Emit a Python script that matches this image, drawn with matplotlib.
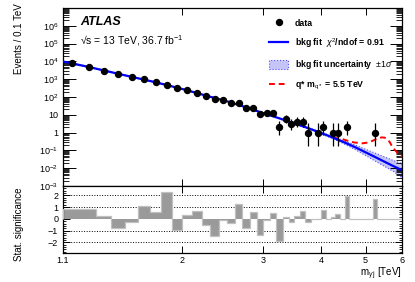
import matplotlib
matplotlib.use('Agg')
import matplotlib.pyplot as plt
import numpy as np
from matplotlib.ticker import FixedLocator, NullFormatter, LogLocator, FixedFormatter, MultipleLocator
from matplotlib.lines import Line2D
from matplotlib.patches import Patch

plt.rcParams['font.family'] = ['Liberation Sans', 'DejaVu Sans']
plt.rcParams['mathtext.fontset'] = 'custom'
plt.rcParams['mathtext.rm'] = 'Liberation Sans'
plt.rcParams['mathtext.it'] = 'Liberation Sans:italic'
plt.rcParams['mathtext.bf'] = 'Liberation Sans:bold'

# data: bin centres [TeV] and events per 0.1 TeV bin
data_m = [1.15, 1.25, 1.35, 1.45, 1.55, 1.65, 1.75, 1.85, 1.95, 2.05,
          2.15, 2.25, 2.35, 2.45, 2.55, 2.65, 2.75, 2.85, 2.95, 3.05,
          3.15, 3.25, 3.35, 3.45, 3.55, 3.65, 3.75, 3.95, 4.05, 4.25,
          4.35, 4.55, 5.25]
data_n = [7820, 4840, 3000, 2010, 1365, 987, 670, 497, 308, 241,
          179, 118, 80, 68, 48, 48, 24, 25, 11, 12,
          12, 2, 6, 3, 4, 4, 1, 1, 2, 1,
          1, 2, 1]

# background fit and its +-1 sigma band
fit_m = [1.1, 1.25, 1.5, 1.75, 2.0, 2.25, 2.5, 2.75, 3.0, 3.25, 3.5,
         3.75, 4.0, 4.25, 4.5, 4.75, 5.0, 5.25, 5.5, 5.75, 6.0]
fit_y = [9900, 4900, 1650, 670, 280, 120, 57, 26.5, 12.3, 6.3, 3.3,
         1.78, 0.96, 0.52, 0.28, 0.15, 0.078, 0.042, 0.023, 0.013, 0.0078]
band_hi = [10500, 5150, 1710, 690, 288, 123, 58.5, 27.3, 12.8, 6.6, 3.5,
           1.93, 1.07, 0.6, 0.34, 0.2, 0.115, 0.07, 0.043, 0.027, 0.018]
band_lo = [9300, 4650, 1590, 650, 272, 117, 55.5, 25.7, 11.8, 6.0, 3.1,
           1.64, 0.85, 0.45, 0.225, 0.11, 0.052, 0.025, 0.0125, 0.0065, 0.0029]

# signal + background, q* with m = 5.5 TeV
sig_m = [4.25, 4.3, 4.47, 4.6, 4.72, 4.93, 5.07, 5.17, 5.3, 5.42, 5.5,
         5.57, 5.65, 5.72, 5.85, 5.94, 6.0]
sig_y = [0.52, 0.5, 0.42, 0.33, 0.28, 0.25, 0.28, 0.34, 0.46, 0.54, 0.52,
         0.44, 0.28, 0.15, 0.078, 0.055, 0.045]

# significance per 0.1 TeV bin, 1.1 - 6.0 TeV
signif = [0.85, 0.85, 0.28, -0.77, -0.28, 1.13, 0.57, 2.3, -0.97, 0.34,
          0.71, -0.55, -1.48, -0.05, -0.32, 1.31, -0.77, 0.62, -1.4, -0.11,
          0.47, -1.92, 0.13, -0.28, 0.28, 0.7, -0.27, 0.0, 0.0, 0.72,
          0.0, 0.2, 0.4, 0.0, 1.93, 0.0, 0.0, 0.0, 0.0, 0.0,
          0.0, 1.7, 0.0, 0.0, 0.0, 0.0, 0.0, 0.0, 0.0]
edges = np.linspace(1.1, 6.0, 50)

# poisson (garwood) intervals for small counts
garwood = {1: (0.173, 3.300), 2: (0.708, 4.638), 3: (1.367, 5.918),
           4: (2.086, 7.163), 6: (3.620, 9.584)}
err_lo, err_hi = [], []
for n in data_n:
    if n in garwood:
        lo, hi = garwood[n]
    else:
        lo, hi = n - np.sqrt(n), n + np.sqrt(n) + 1
    err_lo.append(n - lo)
    err_hi.append(hi - n)

fig = plt.figure(figsize=(4.15, 2.82), dpi=100)
ax = fig.add_axes([0.1518, 0.3404, 0.8169, 0.6312])
ax2 = fig.add_axes([0.1518, 0.1028, 0.8169, 0.2376], sharex=ax)

ax.fill_between(fit_m, band_lo, band_hi, facecolor='#c4c4f6', edgecolor='#5050ff',
                linestyle=':', linewidth=0.8, zorder=1)
ax.plot(sig_m, sig_y, color='red', linestyle=(0, (3, 2)), linewidth=1.4, zorder=2)
ax.plot(fit_m, fit_y, color='#0000ff', linewidth=1.6, zorder=3)
ax.errorbar(data_m, data_n, yerr=[err_lo, err_hi], fmt='o', color='black',
            markersize=4.3, elinewidth=0.9, capsize=0, zorder=4)

ax.set_xscale('log')
ax.set_yscale('log')
ax.set_xlim(1.1, 6.0)
ax.set_ylim(1e-3, 1e7)

xt = [1.1, 2, 3, 4, 5, 6]
for a in (ax, ax2):
    a.xaxis.set_major_locator(FixedLocator(xt))
    a.xaxis.set_minor_locator(FixedLocator([]))
    a.tick_params(which='both', direction='in', top=True, right=True, labelsize=6.5)
    a.tick_params(which='major', length=5, width=0.7)
    a.tick_params(which='minor', length=2.5, width=0.6)
    for s in a.spines.values():
        s.set_linewidth(0.9)
ax.tick_params(axis='x', labelbottom=False)
ax2.xaxis.set_major_formatter(FixedFormatter(['1.1', '2', '3', '4', '5', '6']))
ax2.tick_params(axis='x', pad=2.5)

yt = [1e-3, 1e-2, 1e-1, 1, 10, 1e2, 1e3, 1e4, 1e5, 1e6, 1e7]
ylab = ['$10^{-3}$', '$10^{-2}$', '$10^{-1}$', '1', '10', '$10^{2}$', '$10^{3}$',
        '$10^{4}$', '$10^{5}$', '$10^{6}$', '']
ax.yaxis.set_major_locator(FixedLocator(yt))
ax.yaxis.set_major_formatter(FixedFormatter(ylab))
ax.yaxis.set_minor_locator(LogLocator(base=10, subs=np.arange(2, 10), numticks=20))
ax.yaxis.set_minor_formatter(NullFormatter())
ax.tick_params(axis='y', which='major', length=9)
ax.tick_params(axis='y', which='minor', length=4.5)

# lower panel
ax2.stairs(signif, edges, baseline=0, fill=True, facecolor='#9a9a9a', zorder=2)
ax2.stairs(signif, edges, baseline=0, color='#c0c0c0', linewidth=0.9, zorder=3)
for lv in (-2, -1, 1, 2):
    ax2.axhline(lv, color='black', linestyle=':', linewidth=0.7, zorder=1)
ax2.set_ylim(-2.9, 2.8)
ax2.yaxis.set_major_locator(FixedLocator([-2, -1, 0, 1, 2]))
ax2.yaxis.set_major_formatter(FixedFormatter(['\u22122', '\u22121', '0', '1', '2']))
ax2.yaxis.set_minor_locator(MultipleLocator(0.2))
ax2.tick_params(axis='y', which='major', length=5)
ax2.tick_params(axis='y', which='minor', length=2.5)

fig.text(0.045, 0.99, 'Events / 0.1 TeV', rotation=90, ha='center', va='top', fontsize=7)
fig.text(0.045, 0.335, 'Stat. significance', rotation=90, ha='center', va='top', fontsize=7)
fig.text(0.969, 1 - 274 / 282, r'm$_{\gamma\,\mathrm{j}}$ [TeV]', fontsize=7,
         ha='right', va='center')

ax.text(0.05, 0.92, 'ATLAS', transform=ax.transAxes, fontsize=9, fontweight='bold',
        style='italic', va='center')
ax.text(0.05, 0.815, '\u221as = 13 TeV, 36.7 fb$^{-1}$', transform=ax.transAxes,
        fontsize=7.5, va='center')

handles = [
    Line2D([], [], marker='o', color='black', linestyle='none', markersize=4.3),
    Line2D([], [], color='#0000ff', linewidth=1.6),
    Patch(facecolor='#c4c4f6', edgecolor='#5050ff', linestyle=':', linewidth=0.8),
    Line2D([], [], color='red', linestyle=(0, (3, 2)), linewidth=1.4),
]
labels = ['data', r'bkg fit  $\chi^2$/ndof = 0.91', r'bkg fit uncertainty  $\pm1\sigma$',
          r'q* m$_{\mathrm{q*}}$ = 5.5 TeV']
leg = ax.legend(handles, labels, loc='upper left', bbox_to_anchor=(0.585, 0.985),
                frameon=False, labelspacing=0.95, handlelength=2.2,
                handleheight=1.2, handletextpad=0.7, prop={'weight': 'bold', 'size': 6.3})

fig.savefig('out.png', dpi=100)
